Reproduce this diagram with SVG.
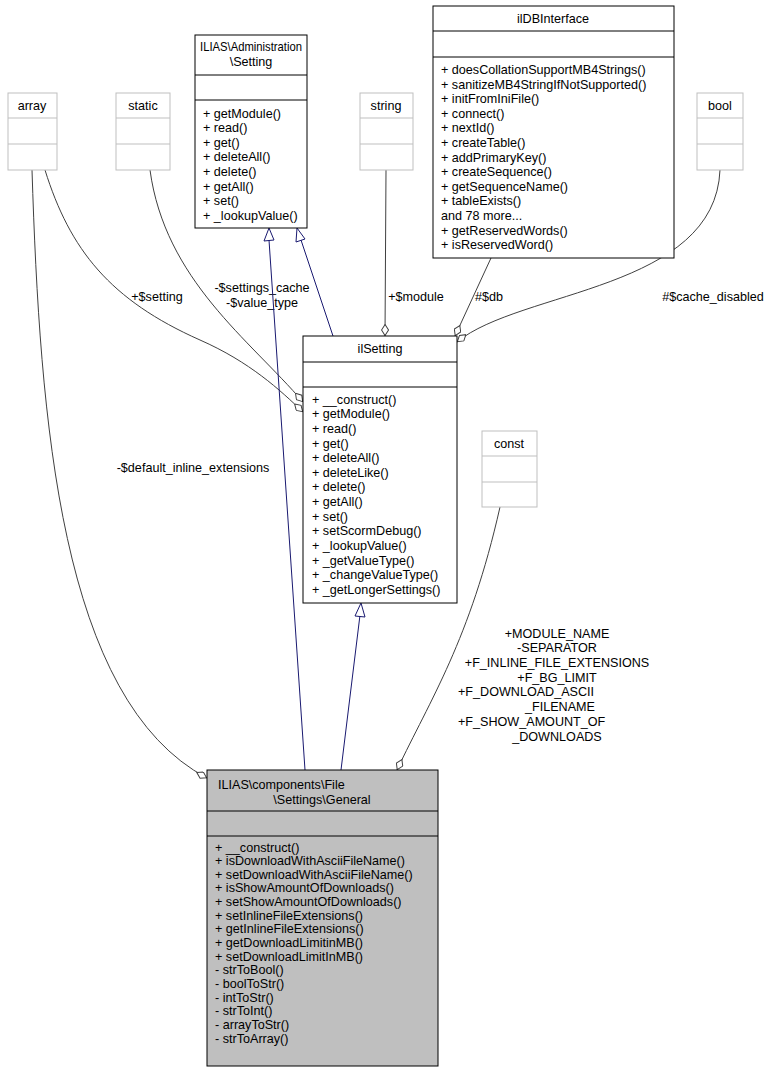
<svg xmlns="http://www.w3.org/2000/svg" width="772" height="1072" viewBox="0 0 772 1072">
<style>
text{font-family:"Liberation Sans",Arial,sans-serif;font-size:12.6px;fill:#000}
.c{text-anchor:middle}
.box{fill:#fff;stroke:#000;stroke-width:1}
.gbox{fill:#fff;stroke:#bfbfbf;stroke-width:1}
.sel{fill:#bfbfbf;stroke:#000;stroke-width:1}
.agg{fill:none;stroke:#404040;stroke-width:1;marker-end:url(#dia)}
.inh{fill:none;stroke:#191970;stroke-width:1}
.tri{fill:#fff;stroke:#191970;stroke-width:1}
</style>
<defs>
<marker id="dia" viewBox="0 0 12 8" refX="12" refY="4" markerWidth="12" markerHeight="8" markerUnits="userSpaceOnUse" orient="auto"><path d="M0.5,4 L6,0.5 L11.5,4 L6,7.5 Z" fill="#fff" stroke="#404040"/></marker>
</defs>
<rect width="772" height="1072" fill="#fff"/>
<g id="connectors">
<path class="agg" d="M32,170 C40,420 60,700 207,778"/>
<text class="c" x="193" y="472">-$default_inline_extensions</text>
<path class="agg" d="M45,170 C70,250 110,300 200,340 C250,362 280,390 303,412"/>
<text class="c" x="157" y="301">+$setting</text>
<path class="agg" d="M150,170 C165,280 250,340 303,402"/>
<text class="c" x="262" y="292">-$settings_cache</text>
<text class="c" x="262" y="307">-$value_type</text>
<path class="inh" d="M269,240 L305,770"/>
<polygon class="tri" points="269,228 264,241 274,240"/>
<path class="inh" d="M301,240 L333,336"/>
<polygon class="tri" points="297,228 296,242 305,239"/>
<path class="agg" d="M386,170 L385,336"/>
<text class="c" x="416" y="301">+$module</text>
<path class="agg" d="M491,258 L455,336"/>
<text class="c" x="489" y="301">#$db</text>
<path class="agg" d="M720,170 C715,290 520,290 457,342"/>
<text class="c" x="713" y="301">#$cache_disabled</text>
<path class="inh" d="M360,615 L341,770"/>
<polygon class="tri" points="361,603 355,616 365,617"/>
<path class="agg" d="M500,507 C470,640 430,700 397,770"/>
<text class="c" x="557" y="638">+MODULE_NAME</text>
<text class="c" x="557" y="652">-SEPARATOR</text>
<text class="c" x="557" y="667">+F_INLINE_FILE_EXTENSIONS</text>
<text class="c" x="557" y="682">+F_BG_LIMIT</text>
<text x="458" y="696">+F_DOWNLOAD_ASCII</text>
<text class="c" x="560" y="711">_FILENAME</text>
<text x="458" y="726">+F_SHOW_AMOUNT_OF</text>
<text class="c" x="557" y="741">_DOWNLOADS</text>
</g>
<g id="array"><rect class="gbox" x="8" y="93" width="49" height="77"/><path d="M8,118H57M8,144H57" stroke="#bfbfbf"/><text class="c" x="32" y="110">array</text></g>
<g id="static"><rect class="gbox" x="116" y="93" width="54" height="77"/><path d="M116,118H170M116,144H170" stroke="#bfbfbf"/><text class="c" x="143" y="110">static</text></g>
<g id="string"><rect class="gbox" x="360" y="93" width="53" height="77"/><path d="M360,118H413M360,144H413" stroke="#bfbfbf"/><text class="c" x="386" y="110">string</text></g>
<g id="bool"><rect class="gbox" x="697" y="93" width="46" height="77"/><path d="M697,118H743M697,144H743" stroke="#bfbfbf"/><text class="c" x="720" y="110">bool</text></g>
<g id="const"><rect class="gbox" x="482" y="431" width="55" height="76"/><path d="M482,456H537M482,482H537" stroke="#bfbfbf"/><text class="c" x="509" y="448">const</text></g>
<g id="adminSetting"><rect class="box" x="195" y="35" width="112" height="193"/><path d="M195,75H307M195,100H307" stroke="#000"/>
<text class="c" x="251" y="51" textLength="102" lengthAdjust="spacingAndGlyphs">ILIAS\Administration</text><text class="c" x="251" y="66">\Setting</text>
<text x="203" y="118">+ getModule()</text><text x="203" y="132">+ read()</text><text x="203" y="147">+ get()</text><text x="203" y="161">+ deleteAll()</text><text x="203" y="176">+ delete()</text><text x="203" y="191">+ getAll()</text><text x="203" y="205">+ set()</text><text x="203" y="220">+ _lookupValue()</text></g>
<g id="ilDBInterface"><rect class="box" x="433" y="6" width="241" height="252"/><path d="M433,31H674M433,57H674" stroke="#000"/>
<text class="c" x="553" y="23">ilDBInterface</text>
<text x="441" y="74">+ doesCollationSupportMB4Strings()</text><text x="441" y="89">+ sanitizeMB4StringIfNotSupported()</text><text x="441" y="103">+ initFromIniFile()</text><text x="441" y="118">+ connect()</text><text x="441" y="132">+ nextId()</text><text x="441" y="147">+ createTable()</text><text x="441" y="162">+ addPrimaryKey()</text><text x="441" y="176">+ createSequence()</text><text x="441" y="191">+ getSequenceName()</text><text x="441" y="205">+ tableExists()</text><text x="441" y="220">and 78 more...</text><text x="441" y="235">+ getReservedWords()</text><text x="441" y="249">+ isReservedWord()</text></g>
<g id="ilSetting"><rect class="box" x="303" y="336" width="154" height="267"/><path d="M303,362H457M303,387H457" stroke="#000"/>
<text class="c" x="380" y="353">ilSetting</text>
<text x="312" y="404">+ __construct()</text><text x="312" y="418">+ getModule()</text><text x="312" y="433">+ read()</text><text x="312" y="448">+ get()</text><text x="312" y="462">+ deleteAll()</text><text x="312" y="477">+ deleteLike()</text><text x="312" y="491">+ delete()</text><text x="312" y="506">+ getAll()</text><text x="312" y="521">+ set()</text><text x="312" y="535">+ setScormDebug()</text><text x="312" y="550">+ _lookupValue()</text><text x="312" y="565">+ _getValueType()</text><text x="312" y="579">+ _changeValueType()</text><text x="312" y="594">+ _getLongerSettings()</text></g>
<g id="General"><rect class="sel" x="207" y="770" width="231" height="296"/><path d="M207,811H438M207,836H438" stroke="#000"/>
<text x="218" y="789">ILIAS\components\File</text><text class="c" x="322" y="804">\Settings\General</text>
<text x="215" y="852">+ __construct()</text><text x="215" y="865">+ isDownloadWithAsciiFileName()</text><text x="215" y="879">+ setDownloadWithAsciiFileName()</text><text x="215" y="892">+ isShowAmountOfDownloads()</text><text x="215" y="906">+ setShowAmountOfDownloads()</text><text x="215" y="920">+ setInlineFileExtensions()</text><text x="215" y="933">+ getInlineFileExtensions()</text><text x="215" y="947">+ getDownloadLimitinMB()</text><text x="215" y="961">+ setDownloadLimitInMB()</text><text x="215" y="974">- strToBool()</text><text x="215" y="988">- boolToStr()</text><text x="215" y="1002">- intToStr()</text><text x="215" y="1015">- strToInt()</text><text x="215" y="1029">- arrayToStr()</text><text x="215" y="1043">- strToArray()</text></g>
</svg>
